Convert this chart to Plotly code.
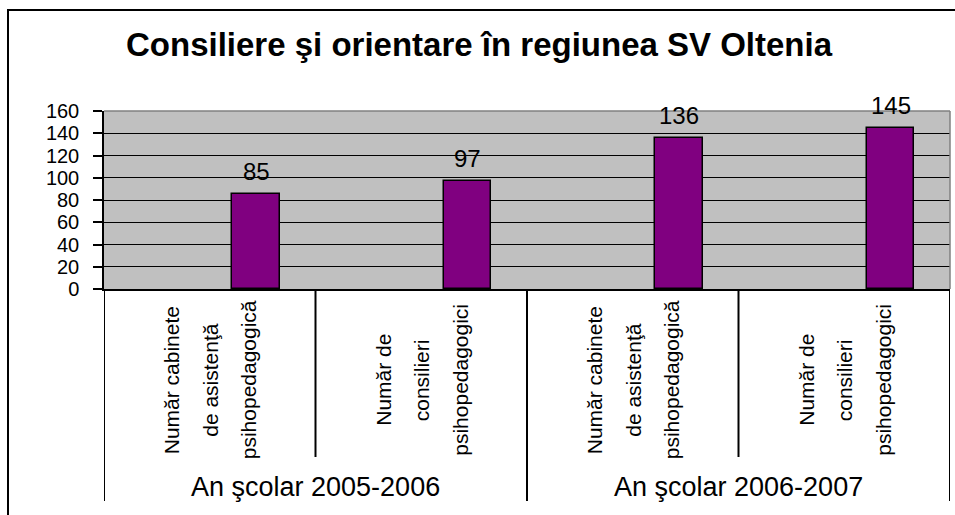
import plotly.graph_objects as go

# ---- data ----
title_text = "Consiliere şi orientare în regiunea SV Oltenia"
groups = ["An şcolar 2005-2006", "An şcolar 2006-2007"]
subcategory_lines = [
    ["Număr cabinete", "de asistenţă", "psihopedagogică"],
    ["Număr de", "consilieri", "psihopedagogici"],
    ["Număr cabinete", "de asistenţă", "psihopedagogică"],
    ["Număr de", "consilieri", "psihopedagogici"],
]
values = [85, 97, 136, 145]
y_ticks = [0, 20, 40, 60, 80, 100, 120, 140, 160]

FONT = "Liberation Sans, Arial, sans-serif"
W, H = 955, 515
PX0, PX1, PY0, PY1 = 104, 950, 111, 289  # plot area in pixels


def xp(px):
    return (px - PX0) / (PX1 - PX0)


def yp(py):
    return (PY1 - py) / (PY1 - PY0)


positions = list(range(len(values)))

fig = go.Figure()
fig.add_trace(go.Bar(
    x=positions, y=values,
    width=0.224, offset=0.107,
    marker=dict(color="#800080", line=dict(color="black", width=1.5)),
    showlegend=False, hoverinfo="skip",
))

annotations = []
# title
annotations.append(dict(text="<b>" + title_text + "</b>", x=xp(479), y=yp(44),
                        xref="paper", yref="paper", xanchor="center", yanchor="middle",
                        showarrow=False, font=dict(family=FONT, size=33, color="black")))
# data labels
for p, v in zip(positions, values):
    annotations.append(dict(text=str(v), x=p + 0.107 + 0.112, y=v, xref="x", yref="y",
                            xanchor="center", yanchor="bottom", yshift=7, showarrow=False,
                            font=dict(family=FONT, size=24, color="black")))
# rotated category labels (one annotation per line)
for p, lines in zip(positions, subcategory_lines):
    for i, line in enumerate(lines):
        annotations.append(dict(text=line, x=p, y=yp(380), xref="x", yref="paper",
                                xshift=(i - 1) * 38.5, textangle=-90,
                                xanchor="center", yanchor="middle", showarrow=False,
                                font=dict(family=FONT, size=21, color="black")))
# group labels
for g, name in enumerate(groups):
    annotations.append(dict(text=name, x=2 * g + 0.5, y=yp(487), xref="x", yref="paper",
                            xanchor="center", yanchor="middle", showarrow=False,
                            font=dict(family=FONT, size=27, color="black")))

shapes = []
# outer chart border
shapes.append(dict(type="rect", xref="paper", yref="paper",
                   x0=xp(8), x1=xp(962), y0=yp(10), y1=yp(522),
                   line=dict(color="black", width=2), layer="below"))
# plot area border (top / right, gray)
shapes.append(dict(type="line", xref="paper", yref="paper", x0=0, x1=1, y0=1, y1=1,
                   line=dict(color="#808080", width=1.5), layer="above"))
shapes.append(dict(type="line", xref="paper", yref="paper", x0=1, x1=1, y0=0, y1=1,
                   line=dict(color="#808080", width=1.5), layer="above"))
# category dividers
n = len(values)
for k in range(n + 1):
    is_group_edge = (k % 2 == 0)
    shapes.append(dict(type="line", xref="x", yref="paper", x0=k - 0.5, x1=k - 0.5,
                       y0=0, y1=yp(501 if is_group_edge else 457),
                       line=dict(color="black", width=2)))

fig.update_layout(
    width=W, height=H,
    margin=dict(l=PX0, r=W - PX1, t=PY0, b=H - PY1, pad=0),
    paper_bgcolor="white", plot_bgcolor="#C0C0C0",
    annotations=annotations, shapes=shapes,
    bargap=0,
    xaxis=dict(range=[-0.5, n - 0.5], showticklabels=False, showgrid=False, zeroline=False,
               showline=True, linecolor="black", linewidth=1.5, ticks="", fixedrange=True),
    yaxis=dict(range=[0, 160], tickvals=y_ticks, ticktext=[str(t) for t in y_ticks],
               showgrid=True, gridcolor="black", gridwidth=1, zeroline=False,
               showline=True, linecolor="black", linewidth=1.5,
               ticks="outside", ticklen=9, tickwidth=1.5, tickcolor="black",
               ticklabelstandoff=10,
               tickfont=dict(family=FONT, size=20, color="black"), fixedrange=True),
)

fig.write_html("out.html", config={"displayModeBar": False},
               post_script="document.body.style.margin='0';document.body.style.overflow='hidden';")
